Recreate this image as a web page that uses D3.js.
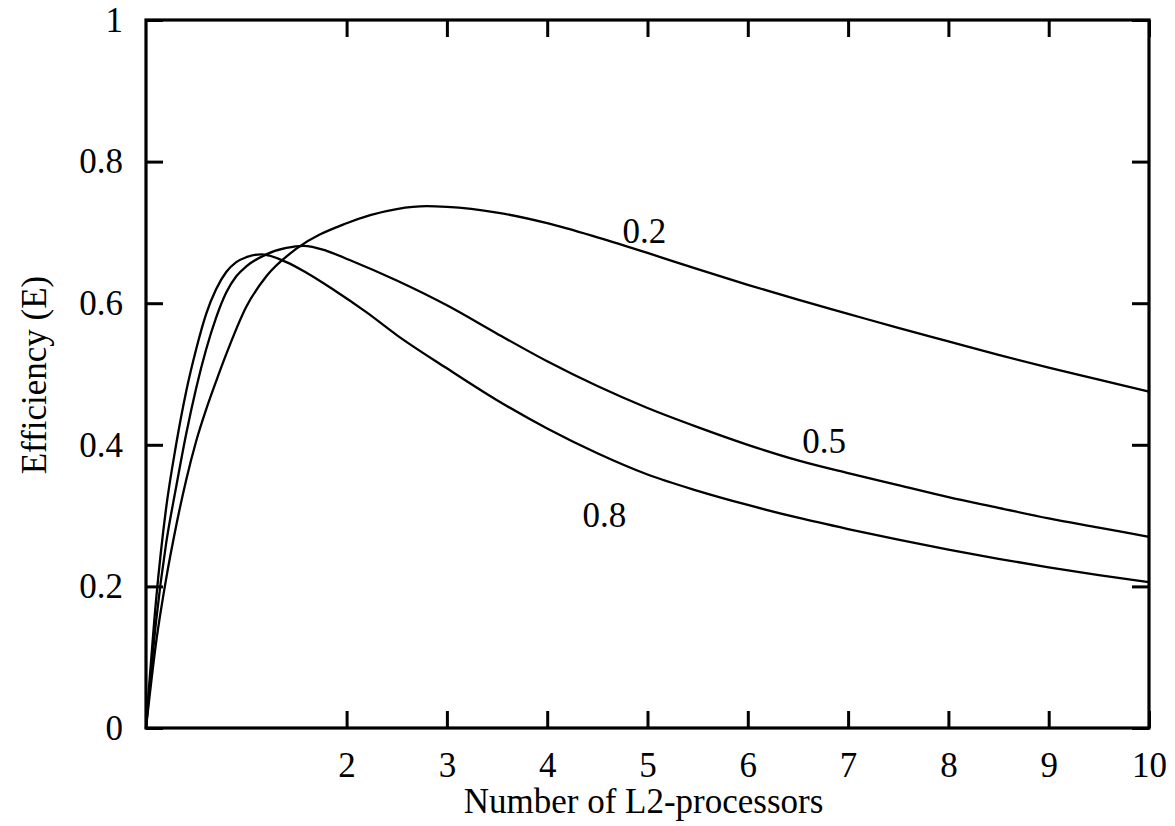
<!DOCTYPE html>
<html>
<head>
<meta charset="utf-8">
<style>
  body { margin: 0; background: #fff; }
  svg { display: block; }
  text { font-family: "Liberation Serif", "Times New Roman", serif; fill: #000; }
</style>
</head>
<body>
<svg id="chart" width="1175" height="826"></svg>
<script src="https://d3js.org/d3.v7.min.js"></script>
<script>
// values
var xTicks = [2, 3, 4, 5, 6, 7, 8, 9, 10];
var yTicks = [0, 0.2, 0.4, 0.6, 0.8, 1];
var seriesNames = ["0.2", "0.5", "0.8"];

var curve02 = [[0,0],[0.1,0.12],[0.2,0.21],[0.3,0.285],[0.4,0.35],[0.5,0.405],[0.6,0.45],[0.7,0.49],
  [0.8,0.528],[1.0,0.595],[1.2,0.638],[1.5,0.677],[2.0,0.713],[2.5,0.733],[2.8,0.737],[3,0.736],
  [3.5,0.728],[4,0.713],[4.5,0.693],[5,0.671],[5.5,0.648],[6,0.626],[6.5,0.605],[7,0.585],
  [7.5,0.565],[8,0.546],[8.5,0.527],[9,0.509],[9.5,0.492],[10,0.475]];
var curve05 = [[0,0],[0.1,0.15],[0.2,0.26],[0.3,0.34],[0.4,0.415],[0.5,0.48],[0.6,0.535],[0.7,0.58],
  [0.8,0.615],[0.9,0.638],[1.0,0.652],[1.2,0.669],[1.4,0.678],[1.57,0.681],[1.8,0.674],[2.03,0.661],
  [2.5,0.632],[3,0.597],[3.5,0.557],[4,0.518],[4.5,0.483],[5,0.452],[5.5,0.425],[6,0.400],
  [6.5,0.378],[7,0.360],[7.5,0.343],[8,0.326],[8.5,0.311],[9,0.296],[9.5,0.283],[10,0.27]];
var curve08 = [[0,0],[0.1,0.18],[0.2,0.31],[0.3,0.40],[0.4,0.475],[0.5,0.535],[0.6,0.585],[0.7,0.62],
  [0.8,0.644],[0.9,0.658],[1.0,0.665],[1.15,0.669],[1.4,0.658],[1.6,0.643],[1.87,0.619],[2.2,0.587],
  [2.5,0.555],[3,0.508],[3.5,0.463],[4,0.423],[4.5,0.388],[5,0.358],[5.5,0.335],[6,0.315],
  [6.5,0.297],[7,0.281],[7.5,0.266],[8,0.252],[8.5,0.239],[9,0.227],[9.5,0.216],[10,0.206]];
// where each curve's label sits (data units)
var labelAt = [[4.97,0.685],[6.76,0.388],[4.57,0.284]];

var series = [curve02, curve05, curve08];

var svg = d3.select("#chart");
var x = d3.scaleLinear().domain([0, 10]).range([146, 1149]);
var y = d3.scaleLinear().domain([0, 1]).range([728, 20]);
var fs = 35, tk = 17;

function styleAxis(g) {
  g.select(".domain").remove();
  g.selectAll(".tick line").attr("stroke", "#000").attr("stroke-width", 3);
  g.selectAll(".tick text").style("font-size", fs + "px")
   .style("font-family", '"Liberation Serif", serif');
}

// bottom axis with labels, inner ticks
svg.append("g").attr("transform", "translate(0,728)")
  .call(d3.axisBottom(x).tickValues(xTicks).tickSize(-tk).tickPadding(24).tickFormat(d3.format("d")))
  .call(styleAxis);
// top axis, ticks only
svg.append("g").attr("transform", "translate(0,20)")
  .call(d3.axisTop(x).tickValues(xTicks).tickSize(-tk).tickFormat(""))
  .call(styleAxis);
// left axis
svg.append("g").attr("transform", "translate(146,0)")
  .call(d3.axisLeft(y).tickValues(yTicks).tickSize(-tk).tickPadding(23).tickFormat(function(d) { return d3.format("")(+d.toFixed(1)); }))
  .call(styleAxis);
// right axis, ticks only
svg.append("g").attr("transform", "translate(1149,0)")
  .call(d3.axisRight(y).tickValues(yTicks).tickSize(-tk).tickFormat(""))
  .call(styleAxis);

// frame
svg.append("rect")
  .attr("x", x(0)).attr("y", y(1))
  .attr("width", x(10) - x(0)).attr("height", y(0) - y(1))
  .attr("fill", "none").attr("stroke", "#000").attr("stroke-width", 3.2);

var line = d3.line()
  .x(function(d) { return x(d[0]); })
  .y(function(d) { return y(d[1]); })
  .curve(d3.curveMonotoneX);

svg.selectAll("path.curve").data(series).enter().append("path")
  .attr("class", "curve")
  .attr("d", line)
  .attr("fill", "none").attr("stroke", "#000").attr("stroke-width", 2.3);

svg.selectAll("text.lab").data(seriesNames).enter().append("text")
  .attr("class", "lab")
  .attr("x", function(d, i) { return x(labelAt[i][0]); })
  .attr("y", function(d, i) { return y(labelAt[i][1]); })
  .attr("text-anchor", "middle")
  .style("font-size", fs + "px")
  .text(function(d) { return d; });

// axis titles
svg.append("text")
  .attr("x", (x(0) + x(10)) / 2 - 4).attr("y", 813)
  .attr("text-anchor", "middle").style("font-size", fs + "px")
  .text("Number of L2-processors");
svg.append("text")
  .attr("transform", "translate(46,375) rotate(-90)")
  .attr("text-anchor", "middle").style("font-size", fs + "px")
  .text("Efficiency (E)");
</script>
</body>
</html>
